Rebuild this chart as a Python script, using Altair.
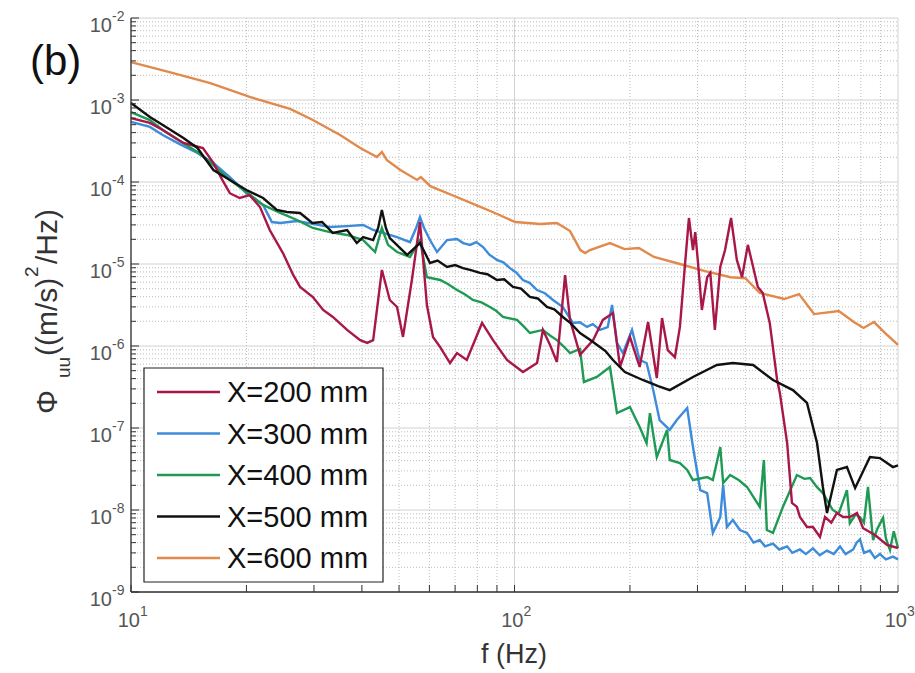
import altair as alt
import pandas as pd

# Velocity spectra Phi_uu(f) at five streamwise stations: (f [Hz], Phi_uu [(m/s)^2/Hz])
X200 = [
    (10, 6.0e-4), (11.2, 5.25e-4), (12.1, 4.3e-4), (13.7, 2.99e-4), (14.7, 2.75e-4),
    (15.4, 2.6e-4), (16.4, 1.71e-4), (17.3, 1.06e-4), (18.1, 7.3e-5), (19.2, 6.38e-5),
    (20.4, 6.9e-5), (21.7, 4.95e-5), (23.0, 2.6e-5), (24.9, 1.36e-5), (26.5, 7.3e-6),
    (27.6, 5.25e-6), (29.8, 3.96e-6), (31.7, 2.75e-6), (33.6, 2.26e-6), (36.6, 1.57e-6),
    (39.6, 1.18e-6), (41.3, 1.09e-6), (42.8, 1.18e-6), (45.1, 8.45e-6), (47.3, 3.64e-6),
    (49.4, 2.99e-6), (51.2, 1.29e-6), (54.0, 6.38e-6), (56.7, 3.25e-5), (59.1, 3.16e-6),
    (61.3, 1.29e-6), (64.0, 9.7e-7), (67.9, 6.2e-7), (70.8, 8.2e-7), (75.1, 6.75e-7),
    (82.3, 1.91e-6), (87.9, 1.18e-6), (95.6, 6.75e-7), (105.2, 4.82e-7), (114.5, 6.2e-7),
    (118.6, 1.57e-6), (123.8, 1.03e-6), (129, 6.38e-7), (135.5, 7.3e-6), (139.6, 2.08e-6),
    (148.2, 7.8e-7), (160.4, 1.18e-6), (170, 2.08e-6), (180.6, 2.52e-6), (188.5, 5.55e-7),
    (200, 1.29e-6), (212, 5.55e-7), (223, 1.96e-6), (235, 4.07e-7), (242.5, 2.19e-6),
    (251, 8.9e-7), (262, 7.3e-7), (270, 1.71e-6), (278, 9.2e-6), (285, 3.64e-5),
    (292, 1.48e-5), (296, 2.45e-5), (301, 1.03e-5), (308, 2.75e-6), (318, 6.9e-6),
    (324, 7.8e-6), (333, 1.57e-6), (344, 9.2e-6), (354, 1.48e-5), (367, 3.64e-5),
    (380, 1.12e-5), (392, 6.9e-6), (406, 1.71e-5), (419, 9.2e-6), (431, 5.25e-6),
    (444, 4.43e-6), (463, 1.91e-6), (484, 3.85e-7), (492, 2.67e-7), (514, 6.56e-8),
    (529, 1.22e-8), (545, 1.09e-8), (555, 8.2e-9), (579, 6.2e-9), (600, 6.2e-9),
    (626, 4.69e-9), (645, 8.2e-9), (670, 7.0e-9), (693, 9.2e-9), (719, 8.2e-9),
    (749, 8.2e-9), (782, 9.2e-9), (811, 6.0e-9), (871, 4.95e-9), (936, 3.74e-9),
    (1000, 3.44e-9),
]

X300 = [
    (10, 5.4e-4), (11.2, 4.69e-4), (12.1, 3.74e-4), (13.4, 2.9e-4), (14.9, 2.26e-4),
    (16.4, 1.71e-4), (18.1, 1.15e-4), (20.0, 7.3e-5), (22.1, 5.25e-5), (23.3, 3.25e-5),
    (24.5, 3.16e-5), (27.1, 3.34e-5), (29.8, 3.08e-5), (33.0, 2.83e-5), (36.6, 2.9e-5),
    (40.3, 2.99e-5), (42.8, 2.6e-5), (45.4, 2.39e-5), (49.4, 2.13e-5), (53.4, 1.85e-5),
    (55.4, 2.75e-5), (56.7, 3.74e-5), (58.1, 2.75e-5), (60.2, 1.96e-5), (62.8, 1.4e-5),
    (66.7, 1.96e-5), (70.8, 2.02e-5), (73.5, 1.8e-5), (76.6, 1.71e-5), (79.5, 1.85e-5),
    (82.8, 1.61e-5), (86.0, 1.3e-5), (90.0, 1.12e-5), (93.5, 1.05e-5), (97.3, 8.9e-6),
    (101, 7.9e-6), (105.2, 6.38e-6), (109.5, 5.9e-6), (114.5, 4.82e-6), (120, 4.4e-6),
    (126, 3.64e-6), (133.7, 2.99e-6), (142, 1.91e-6), (148, 1.95e-6), (154.5, 1.71e-6),
    (160, 1.85e-6), (167, 1.57e-6), (175, 1.7e-6), (179.6, 3.16e-6), (185, 1.09e-6),
    (191.7, 8.2e-7), (202.5, 1.57e-6), (212, 6.75e-7), (221, 6.2e-7), (230, 2.9e-7),
    (239, 1.25e-7), (254, 9.5e-8), (265, 1.25e-7), (282, 1.75e-7), (292, 5.86e-8),
    (305, 1.75e-8), (318, 1.61e-8), (329, 5.25e-9), (344, 8.2e-9), (350, 2.02e-8),
    (358, 6.2e-9), (371, 7.55e-9), (387, 5.7e-9), (404, 5.25e-9), (420, 4.0e-9),
    (436, 4.3e-9), (450, 3.6e-9), (472, 3.9e-9), (490, 3.3e-9), (514, 3.6e-9),
    (530, 3.0e-9), (555, 3.3e-9), (575, 2.9e-9), (600, 3.4e-9), (625, 2.8e-9),
    (653, 3.2e-9), (680, 2.9e-9), (706, 3.6e-9), (730, 2.9e-9), (764, 3.3e-9),
    (780, 4.0e-9), (796, 4.4e-9), (815, 3.0e-9), (845, 3.2e-9), (870, 2.6e-9),
    (897, 2.9e-9), (930, 2.5e-9), (970, 2.7e-9), (1000, 2.5e-9),
]

X400 = [
    (10, 7.1e-4), (11.2, 5.7e-4), (12.1, 4.3e-4), (13.4, 3.16e-4), (14.9, 2.32e-4),
    (16.4, 1.61e-4), (18.1, 1.06e-4), (20.0, 7.55e-5), (22.1, 5.25e-5), (24.5, 4.19e-5),
    (27.1, 3.44e-5), (29.8, 2.75e-5), (33.0, 2.45e-5), (36.6, 2.26e-5), (40.3, 1.96e-5),
    (43.3, 1.4e-5), (45.1, 2.75e-5), (46.8, 1.71e-5), (49.4, 1.4e-5), (53.4, 1.22e-5),
    (56.7, 1.96e-5), (59.1, 6.9e-6), (64.0, 6.38e-6), (67.0, 5.7e-6), (70.8, 4.82e-6),
    (74.0, 4.3e-6), (77.9, 3.64e-6), (82.0, 3.4e-6), (86.3, 2.99e-6), (89.5, 2.7e-6),
    (93.3, 2.26e-6), (101.5, 2.08e-6), (105.5, 1.75e-6), (109.7, 1.44e-6), (118.6, 1.57e-6),
    (123.5, 1.35e-6), (129, 1.18e-6), (134, 1.0e-6), (139.6, 8.2e-7), (148.2, 9.2e-7),
    (151.7, 3.64e-7), (164, 4.19e-7), (177.4, 5.55e-7), (185, 1.52e-7), (200, 1.8e-7),
    (212, 1.03e-7), (221, 6.56e-8), (225.5, 1.52e-7), (235, 4.43e-8), (250, 9.5e-8),
    (254, 4.07e-8), (270, 3.74e-8), (282, 3.08e-8), (292, 2.32e-8), (318, 2.52e-8),
    (329, 2.32e-8), (344, 5.86e-8), (350, 2.13e-8), (365, 2.67e-8), (385, 2.3e-8),
    (404, 1.91e-8), (436, 1.09e-8), (447, 4.07e-8), (455, 5.7e-9), (472, 5.25e-9),
    (501, 1.09e-8), (545, 2.67e-8), (570, 2.4e-8), (590, 2.45e-8), (615, 1.9e-8),
    (637, 1.61e-8), (676, 1.0e-8), (700, 9.0e-9), (736, 1.75e-8), (749, 6.9e-9),
    (775, 8.8e-9), (796, 8.2e-9), (815, 7.0e-9), (835, 1.91e-8), (861, 4.3e-9),
    (885, 6.0e-9), (914, 8.0e-9), (930, 4.5e-9), (953, 3.25e-9), (975, 5.5e-9),
    (1000, 3.44e-9),
]

X500 = [
    (10, 9.2e-4), (11.2, 6.2e-4), (12.1, 4.95e-4), (13.7, 3.44e-4), (14.9, 2.6e-4),
    (16.4, 1.4e-4), (18.1, 1.06e-4), (20.0, 7.98e-5), (22.1, 6.38e-5), (24.0, 4.56e-5),
    (25.5, 4.31e-5), (27.6, 4.19e-5), (29.7, 3.16e-5), (31.5, 3.25e-5), (33.6, 2.39e-5),
    (36.6, 2.6e-5), (38.8, 1.8e-5), (40.3, 2.13e-5), (42.8, 1.96e-5), (44.1, 2.75e-5),
    (45.1, 4.56e-5), (46.2, 2.75e-5), (47.3, 2.07e-5), (52.5, 1.29e-5), (56.7, 1.8e-5),
    (60.2, 1.03e-5), (63.0, 1.1e-5), (66.7, 9.2e-6), (70.0, 9.7e-6), (73.4, 8.9e-6),
    (77.0, 8.4e-6), (81.3, 7.8e-6), (85.0, 7.5e-6), (90.0, 6.38e-6), (94.0, 6.5e-6),
    (99.1, 5.25e-6), (104, 5.0e-6), (109.7, 3.96e-6), (115, 3.8e-6), (121.5, 2.99e-6),
    (127, 2.8e-6), (133.7, 2.26e-6), (140, 1.9e-6), (148.2, 1.44e-6), (157, 1.2e-6),
    (167, 9.7e-7), (173, 8.6e-7), (180.6, 6.75e-7), (194, 4.82e-7), (216, 3.85e-7),
    (237, 3.25e-7), (254, 2.9e-7), (292, 4.19e-7), (337, 5.86e-7), (371, 6.2e-7),
    (419, 5.86e-7), (472, 3.85e-7), (532, 2.9e-7), (579, 2.02e-7), (615, 6.56e-8),
    (637, 1.91e-8), (653, 9.2e-9), (693, 3.08e-8), (736, 3.34e-8), (773, 1.85e-8),
    (845, 4.43e-8), (897, 4.3e-8), (970, 3.34e-8), (1000, 3.5e-8),
]

X600 = [
    (10, 2.9e-3), (12.6, 2.19e-3), (16.1, 1.61e-3), (20.4, 1.09e-3), (26.0, 7.8e-4),
    (29.8, 5.7e-4), (35.1, 3.74e-4), (39.6, 2.6e-4), (43.8, 2.02e-4), (45.1, 2.32e-4),
    (46.5, 1.85e-4), (50.4, 1.4e-4), (55.7, 1.06e-4), (57.0, 1.15e-4), (60.3, 8.9e-5),
    (69.9, 6.7e-5), (78.0, 5.4e-5), (88.9, 4.19e-5), (100.4, 3.25e-5), (116.6, 3.08e-5),
    (129, 3.16e-5), (139.6, 2.52e-5), (148.5, 1.48e-5), (152.8, 1.36e-5), (157.3, 1.48e-5),
    (177.4, 1.8e-5), (193.6, 1.52e-5), (211, 1.57e-5), (231, 1.22e-5), (270, 1.0e-5),
    (314, 8.2e-6), (366, 6.9e-6), (400, 6.7e-6), (436, 4.43e-6), (505, 3.74e-6),
    (552, 4.3e-6), (604, 2.45e-6), (701, 2.67e-6), (767, 1.96e-6), (813, 1.66e-6),
    (866, 1.96e-6), (926, 1.44e-6), (1000, 1.03e-6),
]

SERIES = ["X=200 mm", "X=300 mm", "X=400 mm", "X=500 mm", "X=600 mm"]
COLORS = ["#A8174A", "#3D8BDB", "#1F9A55", "#111111", "#E08A4C"]
DATA = [X200, X300, X400, X500, X600]
DRAW_ORDER = [4, 1, 2, 0, 3]  # orange first, black on top

# Log-axis tick positions
Y_DECADES = [-9, -8, -7, -6, -5, -4, -3, -2]
X_DECADES = [1, 2, 3]
MINOR_MULT = [2, 3, 4, 5, 6, 7, 8, 9]

W, H = 767, 574
FONT = "Liberation Sans"

xs = alt.Scale(type="log", domain=[10, 1000], nice=False)
ys = alt.Scale(type="log", domain=[1e-9, 1e-2], nice=False)

y_major = [10.0 ** k for k in Y_DECADES]
y_minor = [m * 10.0 ** k for k in Y_DECADES[:-1] for m in MINOR_MULT]
x_major = [10.0 ** k for k in X_DECADES]
x_minor = [m * 10.0 ** k for k in X_DECADES[:-1] for m in MINOR_MULT]

one = pd.DataFrame({"a": [0]})
layers = []

# grid: dotted minor lines, solid major lines
minor_style = dict(color="#bdbdbd", strokeWidth=1, strokeDash=[1, 2])
layers.append(alt.Chart(pd.DataFrame({"v": y_minor})).mark_rule(**minor_style).encode(
    y=alt.Y("v:Q", scale=ys, axis=None), x=alt.value(0), x2=alt.value(W)))
layers.append(alt.Chart(pd.DataFrame({"f": x_minor})).mark_rule(**minor_style).encode(
    x=alt.X("f:Q", scale=xs, axis=None), y=alt.value(0), y2=alt.value(H)))
layers.append(alt.Chart(pd.DataFrame({"v": y_major})).mark_rule(
    color="#d2d2d2", strokeWidth=1).encode(
    y=alt.Y("v:Q", scale=ys, axis=None), x=alt.value(0), x2=alt.value(W)))
layers.append(alt.Chart(pd.DataFrame({"f": x_major})).mark_rule(
    color="#d2d2d2", strokeWidth=1).encode(
    x=alt.X("f:Q", scale=xs, axis=None), y=alt.value(0), y2=alt.value(H)))

# spectra
for i in DRAW_ORDER:
    df = pd.DataFrame(DATA[i], columns=["f", "phi"])
    df["i"] = range(len(df))
    layers.append(alt.Chart(df).mark_line(strokeWidth=2.4, color=COLORS[i]).encode(
        x=alt.X("f:Q", scale=xs, axis=None),
        y=alt.Y("phi:Q", scale=ys, axis=None),
        order="i:Q"))

# axis lines and inward ticks
axis_col = "#333333"
layers.append(alt.Chart(one).mark_rule(color=axis_col, strokeWidth=1.3).encode(
    x=alt.value(0), y=alt.value(0), y2=alt.value(H)))
layers.append(alt.Chart(one).mark_rule(color=axis_col, strokeWidth=1.3).encode(
    x=alt.value(0), x2=alt.value(W), y=alt.value(H)))
layers.append(alt.Chart(pd.DataFrame({"v": y_minor})).mark_rule(color=axis_col).encode(
    y=alt.Y("v:Q", scale=ys, axis=None), x=alt.value(0), x2=alt.value(5)))
layers.append(alt.Chart(pd.DataFrame({"v": y_major})).mark_rule(color=axis_col).encode(
    y=alt.Y("v:Q", scale=ys, axis=None), x=alt.value(0), x2=alt.value(8)))
layers.append(alt.Chart(pd.DataFrame({"f": x_minor + x_major})).mark_rule(color=axis_col).encode(
    x=alt.X("f:Q", scale=xs, axis=None), y=alt.value(H), y2=alt.value(H - 7)))

# tick labels 10^k
lab_col = "#555555"
ylab = pd.DataFrame({"v": y_major, "e": [str(k) for k in Y_DECADES]})
layers.append(alt.Chart(ylab).mark_text(
    align="right", baseline="alphabetic", dy=14, fontSize=20, font=FONT, color=lab_col).encode(
    y=alt.Y("v:Q", scale=ys, axis=None), x=alt.value(-19), text=alt.value("10")))
layers.append(alt.Chart(ylab).mark_text(
    align="left", baseline="alphabetic", dy=3, fontSize=14, font=FONT, color=lab_col).encode(
    y=alt.Y("v:Q", scale=ys, axis=None), x=alt.value(-19), text="e:N"))
xlab = pd.DataFrame({"f": x_major, "e": [str(k) for k in X_DECADES]})
layers.append(alt.Chart(xlab).mark_text(
    align="right", baseline="alphabetic", dx=9, fontSize=20, font=FONT, color=lab_col).encode(
    x=alt.X("f:Q", scale=xs, axis=None), y=alt.value(609), text=alt.value("10")))
layers.append(alt.Chart(xlab).mark_text(
    align="left", baseline="alphabetic", dx=9, fontSize=14, font=FONT, color=lab_col).encode(
    x=alt.X("f:Q", scale=xs, axis=None), y=alt.value(598), text="e:N"))

# axis titles
title_col = "#333333"
layers.append(alt.Chart(one).mark_text(
    align="center", baseline="alphabetic", fontSize=27, font=FONT, color=title_col).encode(
    x=alt.value(383), y=alt.value(645), text=alt.value("f (Hz)")))

ytitle_parts = [
    ("Φ", -74, 396, 30),
    ("uu", -61, 360, 19),
    ("((m/s)", -74, 338, 30),
    ("2", -93, 259, 19),
    ("/Hz)", -74, 246, 30),
]
for txt, px, py, fs in ytitle_parts:
    layers.append(alt.Chart(one).mark_text(
        align="left", baseline="alphabetic", angle=270, fontSize=fs, font=FONT,
        color=title_col).encode(x=alt.value(px), y=alt.value(py), text=alt.value(txt)))

# panel label
layers.append(alt.Chart(one).mark_text(
    align="left", baseline="alphabetic", fontSize=42, font=FONT, color="#111111").encode(
    x=alt.value(-101), y=alt.value(57), text=alt.value("(b)")))

# legend box
layers.append(alt.Chart(one).mark_rect(fill="white", stroke="#222222", strokeWidth=1.2).encode(
    x=alt.value(13), x2=alt.value(252), y=alt.value(350), y2=alt.value(564)))
for row in range(5):
    cy = 374 + 41.5 * row
    layers.append(alt.Chart(one).mark_rule(color=COLORS[row], strokeWidth=2.5).encode(
        x=alt.value(26), x2=alt.value(89), y=alt.value(cy)))
    layers.append(alt.Chart(one).mark_text(
        align="left", baseline="alphabetic", fontSize=29, font=FONT, color="#111111").encode(
        x=alt.value(96), y=alt.value(cy + 10), text=alt.value(SERIES[row])))

chart = alt.layer(*layers).properties(
    width=W, height=H,
    autosize=alt.AutoSizeParams(type="none"),
    padding={"left": 131, "top": 18, "right": 17, "bottom": 81},
    background="white",
).configure_view(stroke=None)

chart.save("out.html", embed_options={"renderer": "svg", "actions": False})
